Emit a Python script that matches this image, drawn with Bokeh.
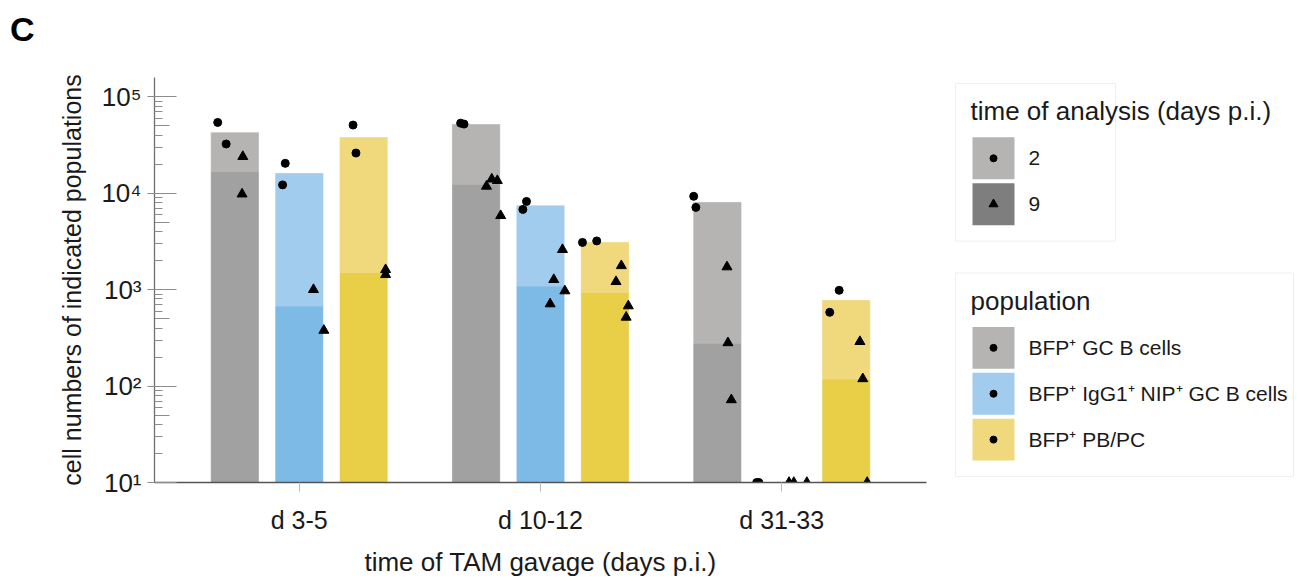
from bokeh.plotting import figure
from bokeh.models import Range1d, FixedTicker, LogAxis, CustomJSTickFormatter, ColumnDataSource, Grid, Div
from bokeh.layouts import row, column
from bokeh.embed import file_html
from bokeh.resources import INLINE
from bokeh.core.properties import value

# ---------------- data ----------------
groups = ["d 3-5", "d 10-12", "d 31-33"]
populations = ["BFP\u207a GC B cells", "BFP\u207a IgG1\u207a NIP\u207a GC B cells", "BFP\u207a PB/PC"]
analysis_days = ["2", "9"]

# bar heights (group means) for each population, per TAM gavage group
bar_day2_gc = [43000, 52100, 8110]
bar_day2_nip = [16200, 7480, 0]
bar_day2_pc = [38200, 3120, 782]
bar_day9_gc = [16600, 12250, 274]
bar_day9_nip = [667, 1080, 0]
bar_day9_pc = [1490, 925, 117]

# individual mice: group index, population index, day of analysis, value, horizontal jitter
pt_group = [0, 0, 0, 0, 0, 0, 0, 0, 0, 0, 0, 0,
            1, 1, 1, 1, 1, 1, 1, 1, 1, 1, 1, 1, 1, 1, 1, 1, 1, 1,
            2, 2, 2, 2, 2, 2, 2, 2, 2, 2, 2, 2, 2, 2, 2]
pt_pop = [0, 0, 0, 0, 1, 1, 1, 1, 2, 2, 2, 2,
          0, 0, 0, 0, 0, 0, 1, 1, 1, 1, 1, 1, 2, 2, 2, 2, 2, 2,
          0, 0, 0, 0, 0, 1, 1, 1, 1, 1, 2, 2, 2, 2, 2]
pt_day = [2, 2, 9, 9, 2, 2, 9, 9, 2, 2, 9, 9,
          2, 2, 9, 9, 9, 9, 2, 2, 9, 9, 9, 9, 2, 2, 9, 9, 9, 9,
          2, 2, 9, 9, 9, 2, 2, 9, 9, 9, 2, 2, 9, 9, 9]
pt_value = [54200, 32400, 24000, 9800, 20400, 12200, 1000, 378, 50900, 26100, 1610, 1430,
            53300, 52100, 14000, 13500, 11800, 5850, 8220, 6790, 2600, 1270, 970, 711,
            3090, 3200, 1770, 1210, 678, 517,
            9290, 7130, 1720, 281, 72, 0, 0, 0, 0, 0, 984, 582, 289, 119, 0]
pt_jitter = [-0.071, -0.036, 0.033, 0.030, -0.058, -0.069, 0.059, 0.102, -0.044, -0.032, 0.091, 0.091,
             -0.064, -0.050, 0.065, 0.088, 0.043, 0.102, -0.058, -0.073, 0.091, 0.055, 0.101, 0.040,
             -0.093, -0.034, 0.068, 0.046, 0.097, 0.088,
             -0.098, -0.089, 0.040, 0.044, 0.058, -0.104, -0.095, 0.030, 0.050, 0.104,
             -0.029, -0.068, 0.057, 0.069, 0.087]

# ---------------- style ----------------
FONT = "Liberation Sans"
TXT = "#1a1a1a"
light_cols = ["#b5b4b3", "#a1cced", "#f0d97c"]
dark_cols = ["#a1a1a1", "#7dbae6", "#e9cf47"]
day_key_cols = ["#b5b4b3", "#7f7e7e"]
day_markers = {2: "circle", 9: "triangle"}
day_sizes = {2: 8, 9: 10}
pop_offset = [-0.267, 0.0, 0.267]
bar_w = 0.2
X_START, X_END = 0.4, 3.6
Y_MIN, Y_MAX = 10, 10 ** 5.2

day2_bars = [bar_day2_gc, bar_day2_nip, bar_day2_pc]
day9_bars = [bar_day9_gc, bar_day9_nip, bar_day9_pc]

# layout (pixels)
DIV_H = 44
H = 579 - DIV_H
TOP, BOTTOM = 77 - DIV_H, 96
LEFT, RIGHT = 154, 14
FRAME_H = H - TOP - BOTTOM
MAIN_W = 940
LW = 356

# ---------------- panel letter ----------------
letter = Div(text="C", width=MAIN_W + LW, height=DIV_H, margin=0,
             styles={"font-family": FONT, "font-size": "34px", "font-weight": "bold",
                     "line-height": "58px", "padding-left": "10px", "color": "black"})

# ---------------- main figure ----------------
p = figure(width=MAIN_W, height=H, x_range=Range1d(X_START, X_END), y_range=Range1d(Y_MIN, Y_MAX),
           y_axis_type="log", y_axis_location=None, output_backend="svg", toolbar_location=None,
           min_border_left=LEFT, min_border_right=RIGHT, min_border_top=TOP, min_border_bottom=BOTTOM)
for g in p.select(type=Grid):
    g.visible = False
p.outline_line_color = None
p.background_fill_color = "white"

for k in range(3):
    xs = [g + 1 + pop_offset[k] for g in range(len(groups))]
    src2 = ColumnDataSource(dict(x=xs, top=[max(v, Y_MIN) for v in day2_bars[k]]))
    src9 = ColumnDataSource(dict(x=xs, top=[max(v, Y_MIN) for v in day9_bars[k]]))
    p.vbar(x="x", top="top", bottom=Y_MIN, width=bar_w, source=src2, fill_color=light_cols[k],
           line_color="white", line_alpha=0.3, line_width=1)
    p.vbar(x="x", top="top", bottom=Y_MIN, width=bar_w - 0.004, source=src9, fill_color=dark_cols[k],
           line_color=None)

for d in (2, 9):
    idx = [i for i in range(len(pt_value)) if pt_day[i] == d]
    src = ColumnDataSource(dict(
        x=[pt_group[i] + 1 + pop_offset[pt_pop[i]] + pt_jitter[i] for i in idx],
        y=[max(pt_value[i], Y_MIN) for i in idx]))
    p.scatter(x="x", y="y", source=src, marker=day_markers[d], size=day_sizes[d],
              fill_color="black", line_color="black")

# x axis
xa = p.xaxis[0]
xa.ticker = FixedTicker(ticks=[1, 2, 3])
xa.formatter = CustomJSTickFormatter(args=dict(labels=groups), code="return labels[Math.round(tick) - 1];")
xa.axis_line_color = "#555555"
xa.axis_line_width = 1.3
xa.major_tick_line_color = "#bbbbbb"
xa.major_tick_out = 9
xa.major_tick_in = 0
xa.minor_tick_line_color = None
xa.major_label_text_font = FONT
xa.major_label_text_font_size = "25px"
xa.major_label_text_color = TXT
xa.major_label_standoff = 14
xa.axis_label = "time of TAM gavage (days p.i.)"
xa.axis_label_text_font = FONT
xa.axis_label_text_font_size = "26px"
xa.axis_label_text_font_style = "normal"
xa.axis_label_text_color = TXT
xa.axis_label_standoff = 10

# y axes: intermediate 5x ticks (inner, no labels) and labelled log axis
minor = [m * 10 ** e for e in range(1, 5) for m in (2, 3, 4, 6, 7, 8, 9)]
fives = [5 * 10 ** e for e in range(1, 5)]
ax5 = LogAxis(ticker=FixedTicker(ticks=fives, minor_ticks=[]),
              formatter=CustomJSTickFormatter(code="return '';"),
              axis_line_color=None, major_tick_in=15, major_tick_out=0,
              major_tick_line_color="#8c8c8c", minor_tick_line_color=None,
              major_label_standoff=0, major_label_text_font_size="1px")
sup_code = """
const sup = {"0":"\u2070","1":"\u00b9","2":"\u00b2","3":"\u00b3","4":"\u2074","5":"\u2075",
             "6":"\u2076","7":"\u2077","8":"\u2078","9":"\u2079","-":"\u207b"};
const e = Math.round(Math.log10(tick));
return "10" + String(e).split("").map(c => sup[c]).join("");
"""
ya = LogAxis(ticker=FixedTicker(ticks=[10, 100, 1000, 10000, 100000], minor_ticks=minor),
             formatter=CustomJSTickFormatter(code=sup_code),
             axis_line_color="#6e6e6e", axis_line_width=1.3,
             major_tick_line_color="#8c8c8c", major_tick_in=22, major_tick_out=7,
             minor_tick_line_color="#8c8c8c", minor_tick_in=8, minor_tick_out=0,
             major_label_text_font=FONT, major_label_text_font_size="26px",
             major_label_text_color=TXT, major_label_standoff=6,
             axis_label="cell numbers of indicated populations",
             axis_label_text_font=FONT, axis_label_text_font_size="25px",
             axis_label_text_font_style="normal", axis_label_text_color=TXT,
             axis_label_standoff=12)
p.add_layout(ax5, "left")
p.add_layout(ya, "left")

# ---------------- legend panel (coordinates in page pixels) ----------------
lg = figure(width=LW, height=H, x_range=Range1d(MAIN_W, MAIN_W + LW),
            y_range=Range1d(DIV_H + TOP + FRAME_H, DIV_H + TOP),
            x_axis_location=None, y_axis_location=None, toolbar_location=None,
            output_backend="svg", min_border_left=0, min_border_right=0,
            min_border_top=TOP, min_border_bottom=BOTTOM, outline_line_color=None)
for g in lg.select(type=Grid):
    g.visible = False

KEY = 42
STEP = 46
box_left = 955
key_cx = 993
label_x = 1028
boxes = [
    dict(top=83, right=1115, title="time of analysis (days p.i.)", labels=analysis_days,
         colors=day_key_cols, markers=["circle", "triangle"]),
    dict(top=273, right=1293, title="population", labels=populations,
         colors=light_cols, markers=["circle"] * 3),
]
for b in boxes:
    n = len(b["labels"])
    title_y = b["top"] + 28
    first_cy = b["top"] + 75
    bottom = first_cy + (n - 1) * STEP + KEY / 2 + 16
    lg.quad(left=[box_left], right=[b["right"]], top=[b["top"]], bottom=[bottom],
            fill_color=None, line_color="#efefef", line_width=1)
    lg.text(x=[box_left + 15], y=[title_y], text=[b["title"]], text_baseline="middle",
            text_font=value(FONT), text_font_size=value("26px"), text_color=TXT)
    cys = [first_cy + i * STEP for i in range(n)]
    lg.rect(x=[key_cx] * n, y=cys, width=KEY, height=KEY, fill_color=b["colors"], line_color=None)
    for i in range(n):
        mk = b["markers"][i]
        lg.scatter(x=[key_cx], y=[cys[i]], marker=mk, size=7 if mk == "circle" else 9,
                   fill_color="black", line_color="black")
    lg.text(x=[label_x] * n, y=cys, text=b["labels"], text_baseline="middle",
            text_font=value(FONT), text_font_size=value("21px"), text_color=TXT)

layout = column(letter, row(p, lg))
open("out.html", "w", encoding="utf-8").write(file_html(layout, INLINE))
